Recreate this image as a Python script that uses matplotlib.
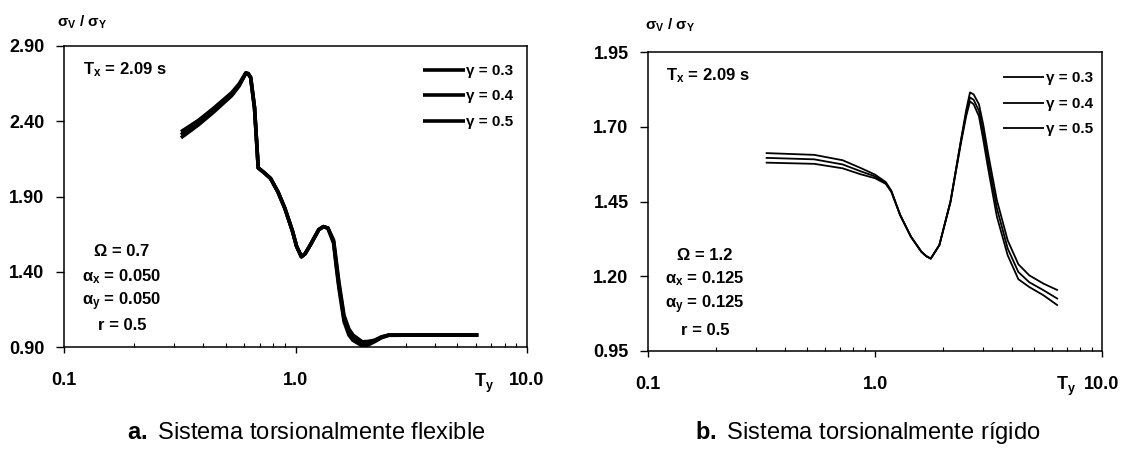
import matplotlib
matplotlib.use('Agg')
import matplotlib.pyplot as plt
from matplotlib.ticker import FixedLocator, LogLocator, NullFormatter

plt.rcParams['font.family'] = ['Liberation Sans', 'DejaVu Sans']
plt.rcParams['mathtext.fontset'] = 'custom'
plt.rcParams['mathtext.rm'] = 'Liberation Sans:bold'
plt.rcParams['mathtext.bf'] = 'Liberation Sans:bold'
plt.rcParams['mathtext.it'] = 'Liberation Sans:italic:bold'

# ---- data ----
gamma_labels = ['γ = 0.3', 'γ = 0.4', 'γ = 0.5']

# a. flexible system
t_flex = [0.32, 0.38, 0.44, 0.53, 0.57, 0.61, 0.625, 0.64, 0.665, 0.69,
          0.73, 0.78, 0.84, 0.90, 0.97, 1.01, 1.06, 1.10, 1.16, 1.26,
          1.32, 1.38, 1.46, 1.50, 1.54, 1.62, 1.70, 1.77, 1.94, 2.05,
          2.19, 2.35, 2.53, 3.74, 6.16]
flex_g03 = [2.33, 2.405, 2.483, 2.59, 2.647, 2.722, 2.717, 2.69, 2.49, 2.09,
            2.06, 2.02, 1.93, 1.82, 1.67, 1.57, 1.50, 1.52, 1.58, 1.68,
            1.70, 1.69, 1.61, 1.47, 1.33, 1.11, 1.02, 0.98, 0.935, 0.937,
            0.945, 0.968, 0.98, 0.98, 0.98]
flex_g04 = [2.31, 2.39, 2.47, 2.58, 2.64, 2.72, 2.715, 2.69, 2.49, 2.09,
            2.06, 2.02, 1.93, 1.82, 1.67, 1.57, 1.50, 1.52, 1.58, 1.68,
            1.70, 1.69, 1.60, 1.45, 1.31, 1.09, 1.00, 0.96, 0.92, 0.925,
            0.94, 0.965, 0.98, 0.98, 0.98]
flex_g05 = [2.29, 2.375, 2.457, 2.57, 2.633, 2.718, 2.713, 2.69, 2.49, 2.09,
            2.06, 2.02, 1.93, 1.82, 1.67, 1.57, 1.50, 1.52, 1.58, 1.68,
            1.70, 1.69, 1.59, 1.43, 1.29, 1.07, 0.98, 0.945, 0.908, 0.913,
            0.935, 0.962, 0.978, 0.98, 0.98]

# b. rigid system
t_rig = [0.33, 0.54, 0.72, 0.865, 1.0, 1.115, 1.18, 1.29, 1.44, 1.60,
         1.68, 1.76, 1.92, 2.15, 2.39, 2.52, 2.62, 2.72, 2.87, 3.0,
         3.15, 3.44, 3.84, 4.28, 4.78, 5.53, 6.39]
rig_g03 = [1.612, 1.606, 1.588, 1.562, 1.540, 1.515, 1.486, 1.405, 1.332, 1.282,
           1.267, 1.259, 1.304, 1.450, 1.655, 1.755, 1.815, 1.808, 1.775, 1.705,
           1.610, 1.455, 1.320, 1.240, 1.203, 1.175, 1.153]
rig_g04 = [1.596, 1.591, 1.574, 1.551, 1.534, 1.512, 1.484, 1.405, 1.332, 1.282,
           1.268, 1.259, 1.304, 1.450, 1.652, 1.745, 1.798, 1.790, 1.753, 1.680,
           1.585, 1.428, 1.293, 1.214, 1.180, 1.153, 1.124]
rig_g05 = [1.580, 1.576, 1.561, 1.541, 1.528, 1.509, 1.482, 1.405, 1.332, 1.282,
           1.267, 1.259, 1.304, 1.448, 1.645, 1.735, 1.785, 1.775, 1.735, 1.655,
           1.560, 1.400, 1.270, 1.190, 1.164, 1.136, 1.102]

flex_yticks = [0.90, 1.40, 1.90, 2.40, 2.90]
rig_yticks = [0.95, 1.20, 1.45, 1.70, 1.95]
xticks = [0.1, 1.0, 10.0]
xticklabels = ['0.1', '1.0', '10.0']

flex_params = ['Ω = 0.7', 'α$_\\mathrm{x}$ = 0.050', 'α$_\\mathrm{y}$ = 0.050', 'r = 0.5']
rig_params = ['Ω = 1.2', 'α$_\\mathrm{x}$ = 0.125', 'α$_\\mathrm{y}$ = 0.125', 'r = 0.5']

fig = plt.figure(figsize=(11.25, 4.69), dpi=100)
ax1 = fig.add_axes([0.0569, 0.260, 0.4116, 0.642])
ax2 = fig.add_axes([0.576, 0.2516, 0.4036, 0.6375])


def style_axis(ax, yticks, lw, series, t, params, param_y, leg_anchor, ty_x):
    for vals, lab in zip(series, gamma_labels):
        ax.plot(t, vals, color='black', linewidth=lw, label=lab,
                solid_capstyle='butt', solid_joinstyle='round')
    ax.set_xscale('log')
    ax.set_xlim(0.1, 10)
    ax.set_ylim(yticks[0], yticks[-1])
    ax.set_yticks(yticks)
    ax.set_yticklabels([f'{v:.2f}' for v in yticks])
    ax.xaxis.set_major_locator(FixedLocator(xticks))
    ax.set_xticklabels(xticklabels)
    ax.xaxis.set_minor_locator(LogLocator(base=10, subs=range(2, 10)))
    ax.xaxis.set_minor_formatter(NullFormatter())
    ax.tick_params(axis='y', direction='out', length=6, width=1,
                   pad=8, labelsize=13)
    ax.tick_params(axis='x', which='major', direction='out', length=4,
                   width=1, pad=14, labelsize=13)
    ax.tick_params(axis='x', which='minor', direction='in', length=3, width=0.8)
    for lab in ax.get_xticklabels() + ax.get_yticklabels():
        lab.set_fontweight('bold')
    for sp in ax.spines.values():
        sp.set_linewidth(1.1)
        sp.set_color('black')

    ax.text(0.04, 0.92, 'T$_\\mathrm{x}$ = 2.09 s', transform=ax.transAxes,
            ha='left', va='center', fontsize=12, fontweight='bold')
    for txt, yy in zip(params, param_y):
        ax.text(0.125, yy, txt, transform=ax.transAxes, ha='center',
                va='center', fontsize=12, fontweight='bold')
    ax.text(ty_x, -0.12, 'T$_\\mathrm{y}$', transform=ax.transAxes,
            ha='center', va='center', fontsize=13, fontweight='bold')

    leg = ax.legend(loc='upper right', bbox_to_anchor=leg_anchor, frameon=False,
                    fontsize=11, handlelength=2.7, handletextpad=0.1,
                    labelspacing=0.75, borderpad=0, borderaxespad=0)
    for txt in leg.get_texts():
        txt.set_fontweight('bold')


style_axis(ax1, flex_yticks, 2.6, [flex_g03, flex_g04, flex_g05], t_flex,
           flex_params, [0.316, 0.233, 0.150, 0.073], (0.97, 0.94), 0.907)
style_axis(ax2, rig_yticks, 1.3, [rig_g03, rig_g04, rig_g05], t_rig,
           rig_params, [0.321, 0.241, 0.154, 0.070], (0.98, 0.935), 0.921)

# y-axis titles
fig.text(82 / 1125, 1 - 22 / 469, 'σ$_\\mathrm{V}$ / σ$_\\mathrm{Y}$',
         ha='center', va='center', fontsize=11, fontweight='bold')
fig.text(670 / 1125, 1 - 25 / 469, 'σ$_\\mathrm{V}$ / σ$_\\mathrm{Y}$',
         ha='center', va='center', fontsize=11, fontweight='bold')

# captions
fig.text(306 / 1125, 1 - 433 / 469,
         '$\\mathbf{a.}$ Sistema torsionalmente flexible',
         ha='center', va='center', fontsize=17)
fig.text(868 / 1125, 1 - 433 / 469,
         '$\\mathbf{b.}$ Sistema torsionalmente rígido',
         ha='center', va='center', fontsize=17)

fig.savefig('out.png', dpi=100)
